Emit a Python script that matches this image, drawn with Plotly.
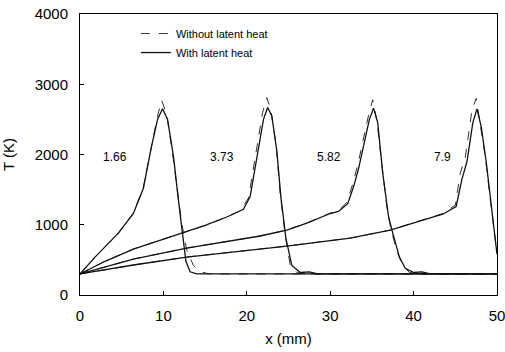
import plotly.graph_objects as go

# ---- data (x in mm, T in K) ----
# t = 1.66
x_166_wo = [0, 1.8, 4.6, 6.4, 7.6, 8.6, 9.3, 9.8, 10.4, 11.0, 11.6, 12.2, 12.8, 13.6, 14.5, 15.5, 20, 30, 40, 50]
T_166_wo = [300, 540, 880, 1166, 1536, 2160, 2550, 2770, 2560, 2100, 1550, 1020, 640, 420, 330, 300, 300, 300, 300, 300]
x_166_w = [0, 1.8, 4.6, 6.4, 7.6, 8.6, 9.3, 9.9, 10.5, 11.2, 11.8, 12.3, 12.7, 13.2, 14, 20, 30, 40, 50]
T_166_w = [300, 540, 880, 1160, 1520, 2130, 2500, 2650, 2500, 1980, 1350, 820, 480, 330, 300, 300, 300, 300, 300]

# t = 3.73
x_373_wo = [0, 3, 6.4, 10, 12.8, 15, 17.6, 19.2, 20.2, 20.8, 21.4, 21.9, 22.4, 22.9, 23.5, 24.0, 24.6, 25.2, 26.0, 27.0, 30, 40, 50]
T_373_wo = [300, 480, 654, 790, 896, 990, 1110, 1200, 1380, 1800, 2250, 2600, 2810, 2620, 2150, 1450, 850, 430, 320, 300, 300, 300, 300]
x_373_w = [0, 3, 6.4, 10, 12.8, 15, 17.6, 19.0, 19.6, 20.4, 20.9, 21.5, 22.0, 22.5, 23.0, 23.6, 24.1, 24.7, 25.4, 26.4, 27.5, 28.5, 30, 40, 50]
T_373_w = [300, 480, 654, 790, 896, 990, 1110, 1180, 1220, 1400, 1750, 2200, 2500, 2670, 2550, 2050, 1380, 800, 420, 320, 330, 300, 300, 300, 300]

# t = 5.82
x_582_wo = [0, 6.4, 12.8, 19.2, 21.6, 24.8, 27.2, 30, 31, 32, 32.7, 33.3, 34.0, 34.6, 35.1, 35.6, 36.2, 36.8, 37.3, 38.0, 38.7, 39.5, 40.5, 50]
T_582_wo = [300, 512, 668, 796, 840, 925, 1024, 1166, 1200, 1320, 1580, 1850, 2230, 2560, 2780, 2480, 1850, 1250, 930, 620, 420, 320, 300, 300]
x_582_w = [0, 6.4, 12.8, 19.2, 21.6, 24.8, 27.2, 30, 31, 32.1, 32.8, 33.4, 34.1, 34.7, 35.2, 35.7, 36.3, 37.0, 37.5, 38.3, 39.0, 40.0, 41.0, 42.0, 50]
T_582_w = [300, 512, 668, 796, 840, 925, 1024, 1160, 1190, 1300, 1540, 1800, 2180, 2500, 2660, 2450, 1735, 1110, 880, 540, 380, 320, 330, 300, 300]

# t = 7.9
x_790_wo = [0, 6.4, 12.8, 19.2, 24.8, 32.4, 37.2, 42.2, 43.5, 45, 45.6, 46.2, 47.0, 47.5, 48.0, 48.6, 49.2, 49.8, 50]
T_790_wo = [300, 427, 540, 626, 697, 810, 925, 1110, 1160, 1280, 1735, 1963, 2630, 2800, 2447, 1963, 1350, 740, 600]
x_790_w = [0, 6.4, 12.8, 19.2, 24.8, 32.4, 37.2, 42.2, 43.5, 45.1, 45.8, 46.4, 47.1, 47.6, 48.1, 48.7, 49.3, 49.9, 50]
T_790_w = [300, 427, 540, 626, 697, 810, 925, 1105, 1150, 1260, 1650, 1900, 2450, 2650, 2400, 1900, 1300, 700, 580]

time_labels = ["1.66", "3.73", "5.82", "7.9"]
label_x = [4.2, 17.0, 29.8, 43.5]
label_T = [1960, 1960, 1960, 1960]

x_ticks = [0, 10, 20, 30, 40, 50]
y_ticks = [0, 1000, 2000, 3000, 4000]

series_wo = [(x_166_wo, T_166_wo), (x_373_wo, T_373_wo), (x_582_wo, T_582_wo), (x_790_wo, T_790_wo)]
series_w = [(x_166_w, T_166_w), (x_373_w, T_373_w), (x_582_w, T_582_w), (x_790_w, T_790_w)]

FONT = "Liberation Sans, Arial, Helvetica, sans-serif"

fig = go.Figure()
for i, (xs, ts) in enumerate(series_wo):
    fig.add_trace(go.Scatter(
        x=xs, y=ts, mode="lines", name="Without latent heat",
        showlegend=(i == 0),
        line=dict(color="#333333", width=1, dash="dash"),
    ))
for i, (xs, ts) in enumerate(series_w):
    fig.add_trace(go.Scatter(
        x=xs, y=ts, mode="lines", name="With latent heat",
        showlegend=(i == 0),
        line=dict(color="#111111", width=1.3),
    ))

for lab, lx, ly in zip(time_labels, label_x, label_T):
    fig.add_annotation(x=lx, y=ly, text=lab, showarrow=False,
                       font=dict(family=FONT, size=12, color="black"))

fig.update_layout(
    width=505, height=352,
    margin=dict(l=80, r=8, t=14, b=57),
    paper_bgcolor="white", plot_bgcolor="white",
    font=dict(family=FONT, color="black"),
    showlegend=True,
    legend=dict(x=0.134, y=0.982, xanchor="left", yanchor="top",
                bgcolor="rgba(0,0,0,0)", font=dict(size=11, family=FONT),
                tracegroupgap=0),
)
fig.update_xaxes(
    range=[0, 50], tickvals=x_ticks, ticktext=[str(v) for v in x_ticks],
    showgrid=False, zeroline=False, showline=True, mirror=True,
    linecolor="black", linewidth=1, ticks="inside", ticklen=4, tickcolor="black",
    tickfont=dict(size=15, family=FONT), ticklabelstandoff=7, automargin=False,
    ticklabeloverflow="allow",
    title=dict(text="x (mm)", font=dict(size=15, family=FONT), standoff=10),
)
fig.update_yaxes(
    range=[0, 4000], tickvals=y_ticks, ticktext=[str(v) for v in y_ticks],
    showgrid=False, zeroline=False, showline=True, mirror=True,
    linecolor="black", linewidth=1, ticks="inside", ticklen=4, tickcolor="black",
    tickfont=dict(size=15, family=FONT), ticklabelstandoff=8, automargin=False,
    ticklabeloverflow="allow",
    title=dict(text="T (K)", font=dict(size=15, family=FONT), standoff=24),
)

fig.write_html(
    "out.html",
    config={"displayModeBar": False},
    post_script="document.body.style.margin='0';document.body.style.overflow='hidden';",
)
